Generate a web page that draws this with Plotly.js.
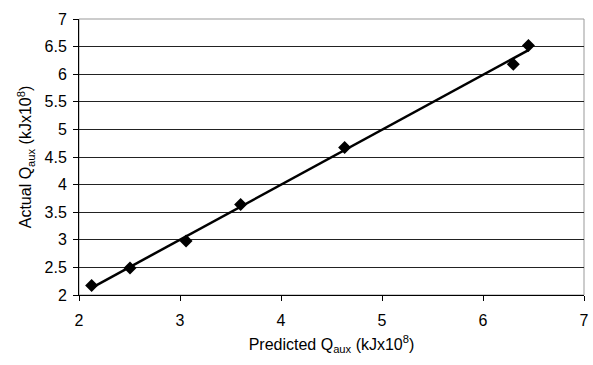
<!DOCTYPE html>
<html>
<head>
<meta charset="utf-8">
<script src="https://cdn.plot.ly/plotly-3.0.1.min.js"></script>
<style>html,body{margin:0;padding:0;background:#fff;}#chart{width:593px;height:365px;}</style>
</head>
<body>
<div id="chart"></div>
<script>
var predicted = [2.125, 2.505, 3.06, 3.60, 4.63, 6.30, 6.45];
var actual    = [2.17, 2.49, 2.98, 3.64, 4.67, 6.18, 6.52];

// linear trendline (least squares) from the data
var n = predicted.length, sx = 0, sy = 0, sxx = 0, sxy = 0;
for (var i = 0; i < n; i++) { sx += predicted[i]; sy += actual[i]; sxx += predicted[i]*predicted[i]; sxy += predicted[i]*actual[i]; }
var slope = (n*sxy - sx*sy) / (n*sxx - sx*sx);
var icpt = (sy - slope*sx) / n;
var xmin = Math.min.apply(null, predicted), xmax = Math.max.apply(null, predicted);
var trendX = [xmin, xmax];
var trendY = [icpt + slope*xmin, icpt + slope*xmax];

var font = 'Liberation Sans, Arial, sans-serif';
var data = [
  {x: trendX, y: trendY, mode: 'lines', line: {color: '#000', width: 2.5}, hoverinfo: 'skip'},
  {x: predicted, y: actual, mode: 'markers', marker: {symbol: 'diamond', size: 10, color: '#000'}}
];
var layout = {
  width: 593, height: 365,
  margin: {l: 79, r: 9, t: 19, b: 70},
  showlegend: false,
  paper_bgcolor: '#fff', plot_bgcolor: '#fff',
  font: {family: font, color: '#000', size: 16},
  xaxis: {
    range: [2, 7], dtick: 1, tick0: 2, showgrid: false, zeroline: false,
    showline: true, linecolor: '#000', linewidth: 1,
    ticks: 'outside', ticklen: 5, tickcolor: '#000',
    ticklabelstandoff: 6,
    tickfont: {size: 16},
    title: {text: 'Predicted Q<sub>aux</sub> (kJx10<sup>8</sup>)', font: {size: 16}, standoff: 10}
  },
  yaxis: {
    range: [2, 7], dtick: 0.5, tick0: 2, showgrid: true, gridcolor: '#222', gridwidth: 1, zeroline: false,
    showline: true, linecolor: '#000', linewidth: 1,
    ticks: 'outside', ticklen: 5, tickcolor: '#000',
    ticklabelstandoff: 3,
    tickfont: {size: 16},
    title: {text: 'Actual Q<sub>aux</sub> (kJx10<sup>8</sup>)', font: {size: 16}, standoff: 8}
  },
  shapes: [
    {type: 'rect', xref: 'paper', yref: 'paper', x0: 0, x1: 1, y0: 0, y1: 1, line: {color: '#999', width: 1}, layer: 'below'}
  ]
};
Plotly.newPlot('chart', data, layout, {displayModeBar: false, staticPlot: true});
</script>
</body>
</html>
